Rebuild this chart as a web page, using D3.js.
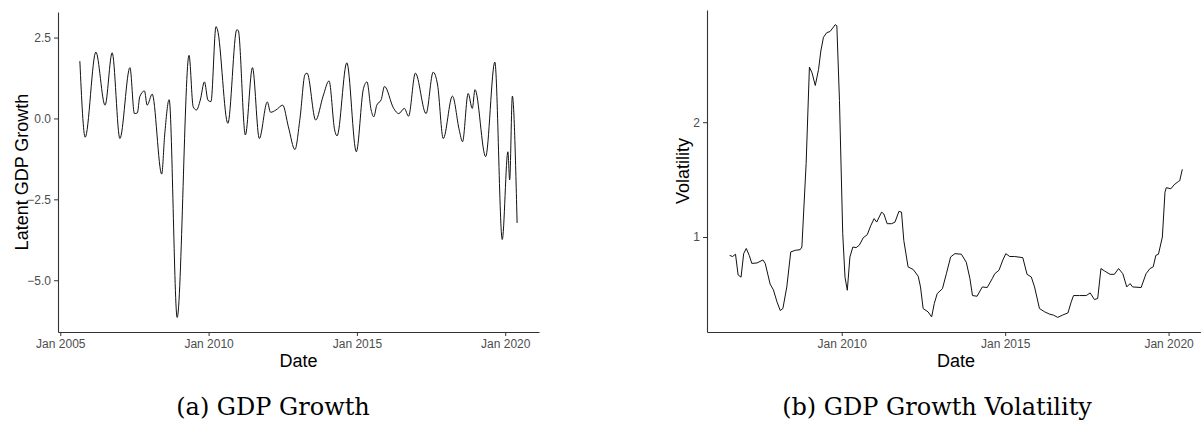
<!DOCTYPE html>
<html>
<head>
<meta charset="utf-8">
<script src="https://cdn.jsdelivr.net/npm/d3@7"></script>
<style>
  body { margin: 0; background: #fff; }
  svg { display: block; }
</style>
</head>
<body>
<div id="vis"></div>
<script>
// datos (fecha en año decimal)
const gdpDates = [2005.66, 2005.84, 2006.2, 2006.51, 2006.75, 2007.01, 2007.35, 2007.5, 2007.6, 2007.68,
  2007.84, 2007.93, 2008.1, 2008.42, 2008.52, 2008.67, 2008.94, 2009.34, 2009.48, 2009.59,
  2009.72, 2009.86, 2009.98, 2010.08, 2010.25, 2010.3, 2010.65, 2010.95, 2011.0, 2011.24, 2011.48,
  2011.71, 2011.98, 2012.09, 2012.27, 2012.5, 2012.69, 2012.91, 2013.08, 2013.25, 2013.32,
  2013.61, 2013.86, 2014.06, 2014.25, 2014.33, 2014.66, 2014.98, 2015.22, 2015.34, 2015.48,
  2015.57, 2015.67, 2015.82, 2015.93, 2016.24, 2016.41, 2016.6, 2016.74, 2016.97, 2017.33,
  2017.57, 2017.72, 2017.91, 2018.22, 2018.45, 2018.56, 2018.75, 2018.89, 2018.98, 2019.34,
  2019.65, 2019.9, 2020.09, 2020.15, 2020.24, 2020.4];
const gdpValues = [1.77, -0.58, 2.05, 0.41, 2.03, -0.62, 1.57, 0.15, 0.17, 0.67,
  0.85, 0.41, 0.75, -1.72, -0.51, 0.58, -6.15, 1.95, 0.36, 0.26,
  0.57, 1.13, 0.56, 0.52, 2.84, 2.74, -0.15, 2.74, 2.72, -0.51, 1.57,
  -0.62, 0.51, 0.19, 0.26, 0.41, -0.26, -0.96, 0.0, 1.36, 1.40,
  -0.05, 0.69, 1.16, -0.36, -0.54, 1.72, -1.03, 0.92, 1.13, 0.26,
  0.05, 0.41, 0.58, 0.99, 0.31, 0.15, 0.31, 0.07, 1.40, 0.15,
  1.43, 1.03, -0.62, 0.69, -0.36, -0.72, 0.77, 0.31, 0.89, -1.18,
  1.74, -3.74, -1.03, -1.90, 0.69, -3.23];

const volDates = [2006.57, 2006.66, 2006.75, 2006.83, 2006.92, 2007.0, 2007.08, 2007.17, 2007.25, 2007.41,
  2007.59, 2007.66, 2007.81, 2007.91, 2008.02, 2008.12, 2008.2, 2008.32, 2008.44, 2008.58,
  2008.73, 2008.78, 2008.91, 2009.01, 2009.09, 2009.19, 2009.29, 2009.36, 2009.44, 2009.54,
  2009.64, 2009.75, 2009.8, 2009.85, 2009.93, 2010.03, 2010.1, 2010.17, 2010.25, 2010.34,
  2010.44, 2010.54, 2010.66, 2010.78, 2010.89, 2010.99, 2011.07, 2011.22, 2011.29, 2011.39,
  2011.53, 2011.63, 2011.75, 2011.83, 2011.9, 2012.03, 2012.19, 2012.34, 2012.41, 2012.49,
  2012.64, 2012.75, 2012.83, 2012.92, 2013.08, 2013.2, 2013.33, 2013.46, 2013.66, 2013.81,
  2013.92, 2014.0, 2014.14, 2014.3, 2014.45, 2014.61, 2014.68, 2014.81, 2014.93, 2015.02,
  2015.14, 2015.29, 2015.54, 2015.67, 2015.8, 2015.9, 2016.05, 2016.21, 2016.36, 2016.48,
  2016.61, 2016.75, 2016.92, 2017.02, 2017.09, 2017.27, 2017.48, 2017.6, 2017.73, 2017.83,
  2017.93, 2018.04, 2018.21, 2018.34, 2018.47, 2018.6, 2018.72, 2018.82, 2018.9, 2019.16,
  2019.31, 2019.43, 2019.53, 2019.61, 2019.69, 2019.81, 2019.89, 2019.93, 2020.07, 2020.17,
  2020.3, 2020.34, 2020.42];
const volValues = [0.84, 0.83, 0.85, 0.67, 0.65, 0.855, 0.90, 0.84, 0.77, 0.774,
  0.80, 0.77, 0.59, 0.54, 0.435, 0.36, 0.377, 0.565, 0.87, 0.884,
  0.89, 0.913, 1.64, 2.48, 2.43, 2.32, 2.46, 2.62, 2.74, 2.78,
  2.79, 2.83, 2.85, 2.84, 2.19, 1.03, 0.65, 0.536, 0.826, 0.913,
  0.907, 0.93, 0.994, 1.02, 1.10, 1.16, 1.13, 1.217, 1.20, 1.116,
  1.116, 1.13, 1.223, 1.217, 0.97, 0.74, 0.716, 0.658, 0.565, 0.377,
  0.348, 0.304, 0.42, 0.507, 0.55, 0.68, 0.826, 0.855, 0.85, 0.78,
  0.64, 0.49, 0.484, 0.565, 0.56, 0.64, 0.68, 0.71, 0.80, 0.855,
  0.83, 0.83, 0.82, 0.675, 0.652, 0.565, 0.377, 0.348, 0.328, 0.319,
  0.30, 0.319, 0.339, 0.435, 0.49, 0.49, 0.49, 0.513, 0.455, 0.464,
  0.725, 0.704, 0.675, 0.675, 0.725, 0.68, 0.565, 0.594, 0.565, 0.56,
  0.68, 0.725, 0.74, 0.84, 0.85, 1.0, 1.39, 1.43, 1.42, 1.455,
  1.484, 1.49, 1.59];

const gdpYTicks = [-5, -2.5, 0, 2.5];
const volYTicks = [1, 2];
const xTickYears = [2005, 2010, 2015, 2020];
const captions = ["(a) GDP Growth", "(b) GDP Growth Volatility"];

const WIDTH = 1201;
const HEIGHT = 421;

const SVG = d3.select("#vis").append("svg")
  .attr("width", WIDTH).attr("height", HEIGHT);

// año decimal -> Date
function aFecha(t) {
  const y = Math.floor(t);
  const ini = Date.UTC(y, 0, 1), fin = Date.UTC(y + 1, 0, 1);
  return new Date(ini + (t - y) * (fin - ini));
}

// expansion estilo ggplot (5%)
function expandir(ext) {
  const p = (ext[1] - ext[0]) * 0.05;
  return [ext[0] - p, ext[1] + p];
}

function panel(cfg) {
  const data = cfg.dates.map((t, i) => ({ fecha: aFecha(t), valor: cfg.values[i] }));
  const g = SVG.append("g");

  const xDom = expandir(d3.extent(cfg.dates)).map(aFecha);
  const x = d3.scaleUtc().domain(xDom).range([cfg.x0, cfg.x1]);
  const y = d3.scaleLinear().domain(expandir(d3.extent(cfg.values))).range([cfg.y1, cfg.y0]);

  const ticksX = xTickYears.map(a => new Date(Date.UTC(a, 0, 1)))
    .filter(d => d >= xDom[0] && d <= xDom[1]);

  const ejeX = g.append("g")
    .attr("transform", `translate(0,${cfg.y1})`)
    .call(d3.axisBottom(x).tickValues(ticksX).tickFormat(d3.utcFormat("%b %Y"))
      .tickSize(4).tickSizeOuter(0).tickPadding(3));

  const ejeY = g.append("g")
    .attr("transform", `translate(${cfg.x0},0)`)
    .call(d3.axisLeft(y).tickValues(cfg.yTicks).tickFormat(cfg.fmt)
      .tickSize(4).tickSizeOuter(0).tickPadding(3));

  [ejeX, ejeY].forEach(e => {
    e.select(".domain").attr("stroke", "#333").attr("stroke-width", 1.1);
    e.selectAll(".tick line").attr("stroke", "#333");
    e.selectAll(".tick text")
      .attr("fill", "#4d4d4d")
      .style("font-family", "Liberation Sans, Arial, sans-serif")
      .style("font-size", "12px");
  });

  g.append("path")
    .datum(data)
    .attr("fill", "none")
    .attr("stroke", "#111")
    .attr("stroke-width", 1)
    .attr("d", d3.line().curve(cfg.curve).x(d => x(d.fecha)).y(d => y(d.valor)));

  // titulos de ejes
  g.append("text")
    .attr("x", (cfg.x0 + cfg.x1) / 2)
    .attr("y", 367)
    .attr("text-anchor", "middle")
    .style("font-family", "Liberation Sans, Arial, sans-serif")
    .style("font-size", "18px")
    .text("Date");

  g.append("text")
    .attr("transform", `translate(${cfg.yLabelX},${(cfg.y0 + cfg.y1) / 2}) rotate(-90)`)
    .attr("text-anchor", "middle")
    .attr("dy", "0.35em")
    .style("font-family", "Liberation Sans, Arial, sans-serif")
    .style("font-size", "18px")
    .text(cfg.yLabel);

  g.append("text")
    .attr("x", cfg.capX)
    .attr("y", 415)
    .attr("text-anchor", "middle")
    .style("font-family", "DejaVu Serif, serif")
    .style("font-size", "24px")
    .text(cfg.caption);
}

panel({
  dates: gdpDates, values: gdpValues, yTicks: gdpYTicks, fmt: d3.format(".1f"),
  x0: 58, x1: 539, y0: 12, y1: 332, curve: d3.curveMonotoneX,
  yLabel: "Latent GDP Growth", yLabelX: 22, caption: captions[0], capX: 273
});

panel({
  dates: volDates, values: volValues, yTicks: volYTicks, fmt: d3.format("d"),
  x0: 707, x1: 1205, y0: 10, y1: 332, curve: d3.curveLinear,
  yLabel: "Volatility", yLabelX: 683, caption: captions[1], capX: 937
});
</script>
</body>
</html>
